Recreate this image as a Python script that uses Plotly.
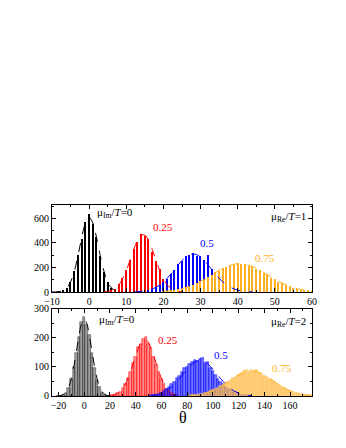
import plotly.graph_objects as go
from plotly.subplots import make_subplots

# ---------------- top panel (mu_Re/T = 1), bin width 1 ----------------
top_black_x = list(range(-8, 9))
top_black_y = [3, 10, 36, 78, 172, 305, 430, 570, 640, 555, 450, 290, 165, 85, 30, 12, 4]
top_black_fit_x = list(range(-10, 11))
top_black_fit_y = [0, 1, 4, 12, 34, 82, 169, 297, 443, 563, 610, 563, 443, 297, 169, 82, 34, 12, 4, 1, 0]

top_red_x = list(range(6, 24))
top_red_y = [10, 28, 65, 115, 180, 265, 350, 410, 470, 460, 430, 330, 250, 190, 110, 55, 25, 10]
top_red_fit_x = list(range(4, 26))
top_red_fit_y = [2, 6, 14, 30, 60, 108, 175, 259, 346, 421, 464, 464, 421, 346, 259, 175, 108, 60, 30, 14, 6, 2]

top_blue_x = list(range(16, 41))
top_blue_y = [14, 22, 42, 55, 85, 108, 150, 180, 228, 250, 290, 300, 315, 296, 290, 265, 300, 190,
              140, 108, 85, 55, 36, 24, 14]
top_blue_fit_x = list(range(12, 45))
top_blue_fit_y = [1, 3, 5, 9, 15, 25, 39, 57, 82, 112, 146, 184, 222, 257, 285, 304, 310, 304, 285,
                  257, 222, 184, 146, 112, 82, 57, 39, 25, 15, 9, 5, 3, 1]

top_orange_x = list(range(20, 61))
top_orange_y = [4, 7, 12, 14, 22, 25, 38, 44, 60, 70, 90, 100, 125, 138, 162, 175, 198, 205, 222, 224,
                236, 228, 230, 215, 210, 190, 180, 155, 143, 118, 106, 85, 74, 55, 48, 34, 28, 19, 16, 10, 7]
top_orange_fit_x = list(range(20, 61))
top_orange_fit_y = [5, 8, 11, 15, 21, 27, 36, 46, 58, 72, 87, 104, 122, 141, 159, 177, 194, 208, 219,
                    227, 231, 231, 227, 219, 208, 194, 177, 159, 141, 122, 104, 87, 72, 58, 46, 36, 27,
                    21, 15, 11, 8]

# ---------------- bottom panel (mu_Re/T = 2), bin width 2 ----------------
bot_black_x = list(range(-18, 19, 2))
bot_black_y = [1, 5, 12, 28, 58, 100, 150, 205, 255, 272, 245, 212, 150, 98, 56, 30, 12, 5, 1]
bot_black_fit_x = list(range(-22, 23, 2))
bot_black_fit_y = [0, 1, 2, 6, 14, 31, 60, 103, 155, 209, 250, 265, 250, 209, 155, 103, 60, 31, 14, 6, 2, 1, 0]

bot_red_x = list(range(22, 73, 2))
bot_red_y = [2, 5, 10, 15, 28, 40, 62, 82, 115, 135, 168, 178, 196, 205, 180, 166, 135, 108, 82,
             58, 40, 25, 15, 8, 5, 2]
bot_red_fit_x = list(range(20, 75, 2))
bot_red_fit_y = [1, 3, 5, 9, 16, 26, 41, 61, 84, 111, 139, 164, 183, 194, 194, 183, 164, 139, 111,
                 84, 61, 41, 26, 16, 9, 5, 3, 1]

bot_blue_x = list(range(54, 127, 2))
bot_blue_y = [3, 5, 8, 12, 18, 24, 32, 42, 50, 62, 70, 84, 95, 100, 112, 118, 124, 120, 126, 132,
              114, 118, 96, 85, 72, 60, 50, 40, 32, 24, 19, 14, 10, 7, 5, 3, 2]
bot_blue_fit_x = list(range(50, 131, 2))
bot_blue_fit_y = [1.5, 2, 3.5, 5, 7, 10, 14, 19, 25, 32, 41, 50, 60, 71, 82, 93, 102, 111, 117, 121,
                  122, 121, 117, 111, 102, 93, 82, 71, 60, 50, 41, 32, 25, 19, 14, 10, 7, 5, 3.5, 2, 1.5]

bot_orange_x = list(range(84, 177, 2))
bot_orange_y = [2, 3, 4, 6, 7, 10, 12, 16, 19, 23, 28, 33, 38, 44, 48, 56, 62, 66, 74, 78, 86, 88,
                84, 90, 86, 88, 80, 76, 70, 66, 60, 55, 50, 42, 37, 32, 28, 22, 18, 15, 12, 9, 7, 5, 4, 3, 2]
bot_orange_fit_x = list(range(80, 177, 2))
bot_orange_fit_y = [1.1, 1.6, 2.2, 3, 4, 5.4, 7, 9, 12, 15, 18, 22, 27, 32, 37, 43, 49, 55, 61, 67, 72,
                    77, 81, 84, 85, 86, 85, 84, 81, 77, 72, 67, 61, 55, 49, 43, 37, 32, 27, 22, 18, 15,
                    12, 9, 7, 5.4, 4, 3, 2.2]

BLACK = "#000000"
RED = "#ff0000"
BLUE = "#0000ff"
ORANGE = "#ffb020"

fig = make_subplots(rows=2, cols=1, vertical_spacing=0.089)

top_sets = [
    (top_black_x, top_black_y, top_black_fit_x, top_black_fit_y, BLACK),
    (top_red_x, top_red_y, top_red_fit_x, top_red_fit_y, RED),
    (top_blue_x, top_blue_y, top_blue_fit_x, top_blue_fit_y, BLUE),
    (top_orange_x, top_orange_y, top_orange_fit_x, top_orange_fit_y, ORANGE),
]
for bx, by, fx, fy, c in top_sets:
    fig.add_trace(go.Bar(x=bx, y=by, width=0.32, marker=dict(color=c, line=dict(width=0)),
                         showlegend=False), row=1, col=1)
for bx, by, fx, fy, c in top_sets:
    fig.add_trace(go.Scatter(x=fx, y=fy, mode="lines", line=dict(color=c, width=1, dash="dash", shape="spline"),
                             showlegend=False), row=1, col=1)

bot_sets = [
    (bot_black_x, bot_black_y, bot_black_fit_x, bot_black_fit_y, BLACK, "rgba(0,0,0,0.38)", "rgba(0,0,0,0.6)"),
    (bot_red_x, bot_red_y, bot_red_fit_x, bot_red_fit_y, RED, "rgba(255,0,0,0.45)", "rgba(255,0,0,0.8)"),
    (bot_blue_x, bot_blue_y, bot_blue_fit_x, bot_blue_fit_y, BLUE, "rgba(0,0,255,0.55)", "rgba(0,0,255,0.8)"),
    (bot_orange_x, bot_orange_y, bot_orange_fit_x, bot_orange_fit_y, ORANGE, "rgba(255,176,32,0.6)", "rgba(255,200,110,1)"),
]
for bx, by, fx, fy, c, fill, edge in bot_sets:
    fig.add_trace(go.Bar(x=bx, y=by, width=2, marker=dict(color=fill, line=dict(width=0.6, color=edge)),
                         showlegend=False), row=2, col=1)
for bx, by, fx, fy, c, fill, edge in bot_sets:
    fig.add_trace(go.Scatter(x=fx, y=fy, mode="lines", line=dict(color=c, width=1, dash="dash", shape="spline"),
                             showlegend=False), row=2, col=1)

axis_common = dict(showline=True, linecolor="black", linewidth=1, mirror="ticks", ticks="inside",
                   ticklen=4, tickcolor="black", showgrid=False, zeroline=False,
                   tickfont=dict(family="Liberation Serif", size=10, color="black"))

fig.update_xaxes(range=[-10, 60], dtick=10, minor=dict(ticks="inside", ticklen=2, dtick=5, tickcolor="black"),
                 **axis_common, row=1, col=1)
fig.update_yaxes(range=[0, 710], dtick=200, minor=dict(ticks="inside", ticklen=2, dtick=100, tickcolor="black"),
                 **axis_common, row=1, col=1)
fig.update_xaxes(range=[-25, 177], dtick=20, minor=dict(ticks="inside", ticklen=2, dtick=10, tickcolor="black"),
                 **axis_common, row=2, col=1)
fig.update_yaxes(range=[0, 300], dtick=100, minor=dict(ticks="inside", ticklen=2, dtick=50, tickcolor="black"),
                 **axis_common, row=2, col=1)

fig.update_layout(
    width=338, height=440,
    margin=dict(l=44, r=34, t=197, b=52),
    paper_bgcolor="white", plot_bgcolor="white",
    barmode="overlay", bargap=0,
    font=dict(family="Liberation Serif", size=10, color="black"),
)
fig.update_layout(yaxis=dict(domain=[0.5445, 1.0]), yaxis2=dict(domain=[0.0, 0.4555]))

ann_font = dict(family="Liberation Serif", size=11)
annots = [
    ("x", "y", 1.6, 645, "μ<sub>Im</sub>/<i>T</i>=0", "black", "left"),
    ("x", "y", 20.0, 530, "0.25", RED, "center"),
    ("x", "y", 31.7, 400, "0.5", BLUE, "center"),
    ("x", "y", 47.4, 277, "0.75", ORANGE, "center"),
    ("x", "y", 58.9, 612, "μ<sub>Re</sub>/<i>T</i>=1", "black", "right"),
    ("x2", "y2", 10.0, 262, "μ<sub>Im</sub>/<i>T</i>=0", "black", "left"),
    ("x2", "y2", 64.9, 193, "0.25", RED, "center"),
    ("x2", "y2", 106.1, 141, "0.5", BLUE, "center"),
    ("x2", "y2", 153.6, 97, "0.75", ORANGE, "center"),
    ("x2", "y2", 174.2, 255, "μ<sub>Re</sub>/<i>T</i>=2", "black", "right"),
]
for xr, yr, x, y, t, c, al in annots:
    fig.add_annotation(xref=xr, yref=yr, x=x, y=y, text=t, showarrow=False, xanchor=al, yanchor="middle",
                       font=dict(color=c, **ann_font))

fig.add_annotation(xref="paper", yref="paper", x=0.505, y=-0.058, text="θ", showarrow=False,
                   xanchor="center", yanchor="top", font=dict(family="Liberation Serif", size=16, color="black"))

fig.write_html("out.html")
